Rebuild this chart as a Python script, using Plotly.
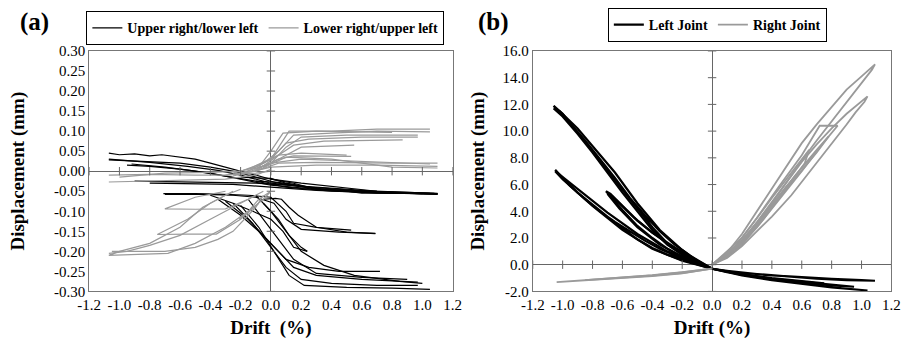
import plotly.graph_objects as go

# ---------------- Panel (a) data: drift (%) vs displacement (mm) ----------------
A_TICKS_X = [-1.2, -1.0, -0.8, -0.6, -0.4, -0.2, 0.0, 0.2, 0.4, 0.6, 0.8, 1.0, 1.2]
A_TICKS_Y = [-0.30, -0.25, -0.20, -0.15, -0.10, -0.05, 0.00, 0.05, 0.10, 0.15, 0.20, 0.25, 0.30]

A_UPPER_RIGHT_CURVES = [
    ([-1.07, -1.0, -0.9, -0.8, -0.72, -0.6, -0.5, -0.4, -0.3, -0.15, 0.0, 0.2, 0.45, 0.7, 1.1],
     [0.045, 0.041, 0.043, 0.038, 0.041, 0.035, 0.03, 0.02, 0.01, -0.005, -0.02, -0.03, -0.04, -0.05, -0.055]),
    ([-1.07, -0.85, -0.6, -0.4, -0.25, -0.1, 0.05, 0.3, 0.6, 0.9, 1.1],
     [0.028, 0.025, 0.02, 0.01, 0.0, -0.015, -0.03, -0.045, -0.05, -0.055, -0.058]),
    ([-1.07, -0.8, -0.55, -0.35, -0.2, 0.0, 0.25, 0.55, 1.08],
     [0.03, 0.022, 0.012, 0.002, -0.01, -0.03, -0.04, -0.048, -0.055]),
    ([-0.95, -0.8, -0.6, -0.4, -0.2, 0.0, 0.3, 0.7, 1.1],
     [0.015, 0.012, 0.005, -0.005, -0.02, -0.035, -0.045, -0.055, -0.056]),
    ([-0.92, -0.7, -0.5, -0.3, -0.1, 0.1, 0.4, 0.8, 1.1],
     [0.018, 0.01, 0.0, -0.012, -0.025, -0.04, -0.05, -0.055, -0.057]),
    ([-0.9, -0.6, -0.3, -0.1, 0.1, 0.4, 0.7],
     [-0.025, -0.027, -0.028, -0.03, -0.035, -0.042, -0.05]),
    ([-0.8, -0.5, -0.25, 0.0, 0.3, 0.6, 1.0],
     [-0.03, -0.031, -0.033, -0.04, -0.048, -0.052, -0.056]),
    ([-0.2, 0.0, 0.1, 0.3, 0.5, 0.8, 1.1],
     [-0.015, -0.018, -0.03, -0.043, -0.05, -0.054, -0.056]),
    ([-0.1, 0.05, 0.2, 0.35, 0.55, 0.75, 1.05],
     [-0.025, -0.028, -0.038, -0.045, -0.05, -0.052, -0.055]),
    ([0.0, 0.15, 0.3, 0.45, 0.6, 0.85, 1.1],
     [-0.02, -0.03, -0.045, -0.047, -0.055, -0.055, -0.057]),
    ([-0.71, -0.5, -0.3, -0.15, 0.0, 0.1, 0.15, 0.3, 0.53],
     [-0.056, -0.056, -0.058, -0.06, -0.065, -0.1, -0.13, -0.14, -0.147]),
    ([-0.7, -0.45, -0.25, -0.1, 0.02, 0.1, 0.2, 0.45, 0.69],
     [-0.058, -0.058, -0.06, -0.065, -0.08, -0.12, -0.145, -0.152, -0.155]),
    ([-0.05, 0.03, 0.07, 0.12, 0.18, 0.3, 0.5, 0.69],
     [-0.07, -0.068, -0.07, -0.09, -0.11, -0.14, -0.152, -0.156]),
    ([-0.4, -0.25, -0.12, 0.0, 0.08, 0.15, 0.24],
     [-0.06, -0.08, -0.1, -0.12, -0.15, -0.19, -0.2]),
    ([-0.35, -0.2, -0.08, 0.0, 0.1, 0.25, 0.45, 0.72],
     [-0.07, -0.11, -0.15, -0.18, -0.22, -0.24, -0.25, -0.25]),
    ([-0.3, -0.15, -0.05, 0.05, 0.15, 0.3, 0.6, 0.97],
     [-0.075, -0.12, -0.16, -0.2, -0.24, -0.26, -0.27, -0.277]),
    ([-0.25, -0.12, 0.0, 0.1, 0.2, 0.4, 0.7, 0.97],
     [-0.08, -0.13, -0.19, -0.24, -0.27, -0.28, -0.285, -0.285]),
    ([-0.2, -0.08, 0.02, 0.12, 0.22, 0.5, 0.8, 1.05],
     [-0.085, -0.14, -0.2, -0.26, -0.285, -0.29, -0.292, -0.295]),
    ([-0.15, -0.05, 0.05, 0.15, 0.3, 0.6, 0.9],
     [-0.07, -0.12, -0.17, -0.22, -0.255, -0.265, -0.27]),
    ([-0.1, 0.0, 0.1, 0.2, 0.35, 0.55, 0.85, 1.0],
     [-0.06, -0.1, -0.15, -0.2, -0.235, -0.26, -0.275, -0.28]),
    ([-0.05, 0.05, 0.12, 0.2, 0.24],
     [-0.08, -0.12, -0.16, -0.19, -0.2]),
]

A_LOWER_RIGHT_CURVES = [
    ([-0.25, -0.1, 0.0, 0.05, 0.12, 0.4, 0.7, 1.05],
     [-0.005, 0.01, 0.03, 0.06, 0.1, 0.1, 0.105, 0.105]),
    ([-0.2, -0.05, 0.05, 0.15, 0.4, 0.7, 1.05],
     [0.0, 0.02, 0.05, 0.09, 0.095, 0.1, 0.098]),
    ([-0.2, 0.0, 0.1, 0.2, 0.5, 0.97],
     [-0.005, 0.02, 0.06, 0.085, 0.09, 0.09]),
    ([-0.15, 0.0, 0.1, 0.25, 0.6, 0.97],
     [0.0, 0.03, 0.07, 0.08, 0.085, 0.085]),
    ([-0.15, 0.05, 0.15, 0.35, 0.87],
     [0.005, 0.04, 0.065, 0.075, 0.078]),
    ([-0.1, 0.05, 0.2, 0.55],
     [0.005, 0.03, 0.06, 0.065]),
    ([-0.1, 0.05, 0.2, 0.5],
     [0.0, 0.04, 0.045, 0.04]),
    ([-0.05, 0.05, 0.15, 0.35, 0.53],
     [0.01, 0.03, 0.038, 0.037, 0.037]),
    ([-0.1, 0.0, 0.08, 0.3, 0.6, 0.8],
     [0.0, 0.05, 0.095, 0.1, 0.098, 0.097]),
    ([-0.3, -0.1, 0.05, 0.3, 0.8, 1.1],
     [-0.01, 0.0, 0.02, 0.022, 0.02, 0.02]),
    ([-0.25, 0.0, 0.3, 0.7, 1.1],
     [-0.012, 0.01, 0.015, 0.015, 0.012]),
    ([-0.2, 0.0, 0.2, 0.6, 1.05],
     [-0.01, 0.02, 0.03, 0.025, 0.018]),
    ([-0.1, 0.1, 0.4, 0.8, 1.1],
     [0.0, 0.035, 0.03, 0.01, 0.008]),
    ([-1.07, -0.8, -0.5, -0.3, -0.1, 0.0],
     [-0.01, -0.008, -0.01, -0.01, -0.005, 0.0]),
    ([-1.07, -0.8, -0.5, -0.3, -0.1, 0.0],
     [-0.027, -0.025, -0.022, -0.02, -0.01, 0.005]),
    ([-1.0, -0.7, -0.4, -0.2],
     [-0.015, -0.005, -0.003, 0.0]),
    ([-0.2, -0.3, -0.45, -0.6, -0.8, -1.0, -1.07, -0.9, -0.68, -0.5, -0.3, -0.15, -0.05, 0.0],
     [-0.045, -0.06, -0.09, -0.14, -0.18, -0.2, -0.21, -0.208, -0.205, -0.18, -0.14, -0.1, -0.07, -0.05]),
    ([-0.25, -0.4, -0.55, -0.75, -0.55, -0.36, -0.2, -0.08],
     [-0.05, -0.08, -0.12, -0.158, -0.157, -0.157, -0.12, -0.08]),
    ([-0.3, -0.5, -0.7, -0.5, -0.3, -0.15, -0.05],
     [-0.05, -0.065, -0.094, -0.095, -0.094, -0.07, -0.05]),
    ([-1.07, -0.95, -0.8, -0.6, -0.4, -0.2, -0.1],
     [-0.205, -0.2, -0.185, -0.16, -0.12, -0.08, -0.06]),
    ([-0.05, -0.1, -0.15, -0.25, -0.35, -0.5, -0.7, -1.05],
     [-0.06, -0.09, -0.11, -0.15, -0.17, -0.19, -0.2, -0.2]),
    ([-0.21, -0.15, -0.08, 0.0],
     [-0.12, -0.1, -0.07, -0.05]),
]

# ---------------- Panel (b) data ----------------
B_TICKS_X = [-1.2, -1.0, -0.8, -0.6, -0.4, -0.2, 0.0, 0.2, 0.4, 0.6, 0.8, 1.0, 1.2]
B_TICKS_Y = [-2.0, 0.0, 2.0, 4.0, 6.0, 8.0, 10.0, 12.0, 14.0, 16.0]

B_LEFT_JOINT_CURVES = [
    ([0.0, -0.1, -0.2, -0.3, -0.4, -0.5, -0.6, -0.7, -0.8, -0.9, -1.0, -1.06, -1.04, -0.95, -0.85, -0.75, -0.65, -0.55, -0.45, -0.35, -0.25, -0.15, -0.05, 0.0],
     [-0.3, 0.2, 0.8, 1.6, 2.8, 4.2, 5.6, 7.0, 8.6, 9.9, 11.3, 11.9, 11.6, 10.6, 9.3, 7.9, 6.5, 5.0, 3.7, 2.5, 1.5, 0.7, 0.0, -0.3]),
    ([0.0, -0.1, -0.2, -0.3, -0.4, -0.5, -0.6, -0.7, -0.8, -0.9, -1.0, -1.06, -1.02, -0.9, -0.78, -0.65, -0.5, -0.35, -0.2, -0.05, 0.0],
     [-0.3, 0.15, 0.75, 1.5, 2.6, 4.0, 5.4, 6.9, 8.4, 9.8, 11.1, 11.7, 11.5, 10.2, 8.6, 6.9, 4.6, 2.6, 1.1, -0.1, -0.3]),
    ([0.0, -0.1, -0.2, -0.3, -0.4, -0.5, -0.6, -0.7, -0.8, -0.9, -1.0, -1.05, -1.03, -0.95, -0.85, -0.75, -0.65, -0.55, -0.45, -0.35, -0.25, -0.15, -0.05, 0.0],
     [-0.3, 0.0, 0.35, 0.75, 1.25, 1.9, 2.7, 3.6, 4.5, 5.4, 6.5, 7.1, 6.8, 5.9, 4.9, 4.0, 3.2, 2.5, 1.8, 1.2, 0.7, 0.3, -0.1, -0.3]),
    ([0.0, -0.2, -0.4, -0.6, -0.8, -1.0, -1.05, -0.9, -0.7, -0.5, -0.3, -0.1, 0.0],
     [-0.3, 0.3, 1.2, 2.6, 4.4, 6.4, 7.0, 5.7, 3.9, 2.3, 1.0, 0.1, -0.3]),
    ([0.0, -0.1, -0.2, -0.3, -0.4, -0.5, -0.6, -0.71, -0.68, -0.6, -0.5, -0.4, -0.3, -0.2, -0.1, 0.0],
     [-0.3, 0.1, 0.6, 1.2, 2.0, 2.9, 4.1, 5.5, 5.3, 4.4, 3.3, 2.4, 1.6, 0.9, 0.3, -0.3]),
    ([0.0, -0.2, -0.35, -0.5, -0.62, -0.7, -0.64, -0.52, -0.4, -0.25, -0.1, 0.0],
     [-0.3, 0.6, 1.5, 2.8, 4.2, 5.3, 4.8, 3.5, 2.4, 1.3, 0.3, -0.3]),
    ([0.0, 0.2, 0.4, 0.6, 0.8, 1.0, 1.09, 0.9, 0.7, 0.5, 0.3, 0.1, 0.0],
     [-0.3, -0.6, -0.8, -0.95, -1.05, -1.15, -1.2, -1.15, -1.05, -0.9, -0.7, -0.45, -0.3]),
    ([0.0, 0.2, 0.4, 0.6, 0.8, 1.04, 0.9, 0.7, 0.5, 0.3, 0.1, 0.0],
     [-0.3, -0.8, -1.15, -1.45, -1.7, -1.93, -1.8, -1.55, -1.25, -0.95, -0.55, -0.3]),
    ([0.0, 0.2, 0.4, 0.6, 0.75, 0.6, 0.4, 0.2, 0.0],
     [-0.3, -0.7, -1.0, -1.25, -1.4, -1.3, -1.1, -0.75, -0.3]),
    ([0.0, 0.2, 0.4, 0.6, 0.8, 0.95, 0.8, 0.6, 0.4, 0.2, 0.0],
     [-0.3, -0.75, -1.1, -1.35, -1.55, -1.65, -1.5, -1.3, -1.05, -0.7, -0.3]),
]

B_RIGHT_JOINT_CURVES = [
    ([0.0, -0.1, -0.2, -0.4, -0.6, -0.8, -1.04, -0.8, -0.6, -0.4, -0.2, -0.1, 0.0],
     [-0.3, -0.5, -0.65, -0.85, -1.0, -1.15, -1.3, -1.1, -0.95, -0.8, -0.58, -0.45, -0.3]),
    ([0.0, -0.2, -0.4, -0.6, -0.85, -0.6, -0.4, -0.2, 0.0],
     [-0.3, -0.62, -0.82, -0.97, -1.15, -0.93, -0.78, -0.55, -0.3]),
    ([0.0, 0.1, 0.2, 0.3, 0.4, 0.5, 0.6, 0.7, 0.8, 0.9, 1.0, 1.09, 1.07, 1.0, 0.9, 0.8, 0.7, 0.6, 0.5, 0.4, 0.3, 0.2, 0.1, 0.0],
     [0.0, 0.9, 2.3, 4.0, 5.8, 7.5, 9.1, 10.5, 11.8, 13.1, 14.1, 15.0, 14.6, 13.6, 12.2, 10.8, 9.3, 7.8, 6.2, 4.6, 3.1, 1.8, 0.7, 0.0]),
    ([0.0, 0.1, 0.2, 0.3, 0.4, 0.5, 0.6, 0.7, 0.8, 0.9, 1.04, 1.02, 0.96, 0.9, 0.81, 0.7, 0.6, 0.53, 0.4, 0.3, 0.2, 0.1, 0.0],
     [0.0, 0.7, 1.8, 3.2, 4.7, 6.2, 7.7, 9.0, 10.2, 11.3, 12.6, 12.2, 11.4, 10.5, 9.2, 7.6, 6.2, 5.2, 3.6, 2.5, 1.4, 0.5, 0.0]),
    ([0.0, 0.15, 0.3, 0.45, 0.6, 0.72, 0.84, 0.75, 0.6, 0.45, 0.3, 0.15, 0.0],
     [0.0, 1.3, 3.5, 5.9, 8.2, 10.4, 10.4, 9.2, 7.0, 4.9, 2.8, 1.0, 0.0]),
    ([0.0, 0.2, 0.4, 0.55, 0.65, 0.62, 0.5, 0.35, 0.2, 0.0],
     [0.0, 2.0, 5.0, 7.2, 8.6, 7.6, 5.8, 3.5, 1.5, 0.0]),
    ([0.0, 0.15, 0.3, 0.45, 0.6, 0.7, 0.78, 0.7, 0.55, 0.4, 0.25, 0.1, 0.0],
     [0.0, 1.2, 3.0, 5.0, 7.0, 8.4, 9.6, 8.6, 6.6, 4.4, 2.3, 0.6, 0.0]),
    ([0.0, 0.2, 0.35, 0.5, 0.58, 0.5, 0.38, 0.2, 0.0],
     [0.0, 1.6, 3.6, 5.8, 6.9, 5.9, 4.2, 1.8, 0.0]),
]

BLACK = "#000000"
GRAY = "#9a9a9a"
FONT = "Liberation Serif, Times New Roman, Times, serif"


def join_curves(curves):
    xs, ys = [], []
    for cx, cy in curves:
        xs.extend(cx + [None])
        ys.extend(cy + [None])
    return xs, ys


fig = go.Figure()

ax, ay = join_curves(A_UPPER_RIGHT_CURVES)
fig.add_trace(go.Scatter(x=ax, y=ay, mode="lines", name="Upper right/lower left",
                         line=dict(color=BLACK, width=1.2), xaxis="x", yaxis="y",
                         legend="legend"))
ax, ay = join_curves(A_LOWER_RIGHT_CURVES)
fig.add_trace(go.Scatter(x=ax, y=ay, mode="lines", name="Lower right/upper left",
                         line=dict(color=GRAY, width=1.2), xaxis="x", yaxis="y",
                         legend="legend"))

bx, by = join_curves(B_LEFT_JOINT_CURVES)
fig.add_trace(go.Scatter(x=bx, y=by, mode="lines", name="Left Joint",
                         line=dict(color=BLACK, width=2.2), xaxis="x2", yaxis="y2",
                         legend="legend2"))
bx, by = join_curves(B_RIGHT_JOINT_CURVES)
fig.add_trace(go.Scatter(x=bx, y=by, mode="lines", name="Right Joint",
                         line=dict(color=GRAY, width=1.8), xaxis="x2", yaxis="y2",
                         legend="legend2"))

# Tick marks drawn on the zero (crossing) axes, Excel style
for xa, ya, tx, ty in (("x", "y", A_TICKS_X, A_TICKS_Y), ("x2", "y2", B_TICKS_X, B_TICKS_Y)):
    fig.add_trace(go.Scatter(x=tx, y=[0] * len(tx), mode="markers", xaxis=xa, yaxis=ya,
                             marker=dict(symbol="line-ns", size=6,
                                         line=dict(color="#666666", width=1)),
                             showlegend=False, hoverinfo="skip"))
    fig.add_trace(go.Scatter(x=[0] * len(ty), y=ty, mode="markers", xaxis=xa, yaxis=ya,
                             marker=dict(symbol="line-ew", size=6,
                                         line=dict(color="#666666", width=1)),
                             showlegend=False, hoverinfo="skip"))

tickfont = dict(family=FONT, size=15, color="#000000")
ytitlefont = dict(family=FONT, size=19, color="#000000", weight="bold")
xtitlefont = dict(family=FONT, size=19, color="#000000", weight="bold")

common_x = dict(range=[-1.2, 1.2], tickmode="array", showgrid=False, zeroline=True,
                zerolinecolor="#666666", zerolinewidth=1, showline=True, mirror=True,
                linecolor="#777777", linewidth=1, ticks="", tickfont=tickfont)
common_y = dict(tickmode="array", showgrid=False, zeroline=True,
                zerolinecolor="#666666", zerolinewidth=1, showline=True, mirror=True,
                linecolor="#777777", linewidth=1, ticks="", tickfont=tickfont)

fig.update_layout(
    width=917, height=350,
    margin=dict(l=0, r=0, t=0, b=0),
    paper_bgcolor="white", plot_bgcolor="white",
    font=dict(family=FONT, color="#000"),
    xaxis=dict(common_x, domain=[0.0861, 0.4918], anchor="y",
               tickvals=A_TICKS_X, ticktext=[f"{v:.1f}" for v in A_TICKS_X],
               title=dict(text="Drift  (%)", font=xtitlefont, standoff=8)),
    yaxis=dict(common_y, domain=[0.1514, 0.8714], anchor="x", range=[-0.30, 0.30],
               tickvals=A_TICKS_Y, ticktext=[f"{v:.2f}" for v in A_TICKS_Y],
               title=dict(text="Displacement (mm)", font=ytitlefont, standoff=24)),
    xaxis2=dict(common_x, domain=[0.5812, 0.9815], anchor="y2",
                tickvals=B_TICKS_X, ticktext=[f"{v:.1f}" for v in B_TICKS_X],
                title=dict(text="Drift (%)", font=xtitlefont, standoff=8)),
    yaxis2=dict(common_y, domain=[0.1514, 0.8714], anchor="x2", range=[-2.0, 16.0],
                tickvals=B_TICKS_Y, ticktext=[f"{v:.1f}" for v in B_TICKS_Y],
                title=dict(text="Displacement (mm)", font=ytitlefont, standoff=12)),
    legend=dict(orientation="h", x=0.083, y=0.99, xanchor="left", yanchor="top",
                bordercolor="#000", borderwidth=1, bgcolor="white",
                font=dict(family=FONT, size=14, color="#000", weight="bold"),
                itemwidth=30, tracegroupgap=0),
    legend2=dict(orientation="h", x=0.665, y=1.0, xanchor="left", yanchor="top",
                 bordercolor="#000", borderwidth=1, bgcolor="white",
                 font=dict(family=FONT, size=14, color="#000", weight="bold"),
                 itemwidth=30, tracegroupgap=0),
    annotations=[
        dict(text="(a)", x=0.0, y=1.0, xref="paper", yref="paper", xanchor="left",
             yanchor="top", showarrow=False, xshift=6, yshift=2,
             font=dict(family=FONT, size=25, color="#000", weight="bold")),
        dict(text="(b)", x=0.5, y=1.0, xref="paper", yref="paper", xanchor="left",
             yanchor="top", showarrow=False, xshift=16, yshift=2,
             font=dict(family=FONT, size=25, color="#000", weight="bold")),
    ],
)

fig.write_html("out.html")
